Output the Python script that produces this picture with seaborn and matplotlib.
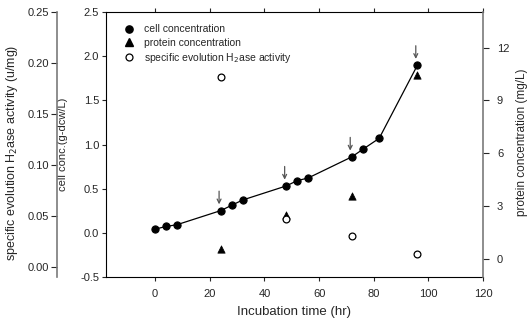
import matplotlib
matplotlib.use("Agg")
from matplotlib import pyplot as plt
from matplotlib.lines import Line2D
import seaborn as sns
import pandas as pd

# cell concentration (g-dcw/L)
cell_time = [0, 4, 8, 24, 28, 32, 48, 52, 56, 72, 76, 82, 96]
cell_conc = [0.04, 0.07, 0.09, 0.25, 0.31, 0.37, 0.53, 0.59, 0.62, 0.86, 0.945, 1.07, 1.90]

# protein concentration (mg/L)
prot_time = [24, 48, 72, 96]
prot_conc = [0.57, 2.5, 3.57, 10.47]

# specific evolution H2ase activity (u/mg)
act_time = [24, 48, 72, 96]
act_val = [0.186, 0.047, 0.030, 0.0125]

# times marked with arrows
arrow_time = [24, 48, 72, 96]

cell_df = pd.DataFrame({"time": cell_time, "conc": cell_conc})
prot_df = pd.DataFrame({"time": prot_time, "conc": prot_conc})
act_df = pd.DataFrame({"time": act_time, "act": act_val})

sns.set_style("ticks")
plt.rcParams["font.family"] = ["Liberation Sans", "DejaVu Sans"]

fig = plt.figure(figsize=(5.27, 3.24), dpi=100)
ax = fig.add_axes([0.2011, 0.146, 0.7154, 0.816])

sns.lineplot(x="time", y="conc", data=cell_df, ax=ax, color="black", linewidth=0.9,
             marker="o", markersize=5.2, markeredgecolor="black", markerfacecolor="black")
ax.set_xlim(-18, 120)
ax.set_ylim(-0.5, 2.5)
ax.set_xticks([0, 20, 40, 60, 80, 100, 120])
ax.set_yticks([-0.5, 0.0, 0.5, 1.0, 1.5, 2.0, 2.5])
ax.set_yticklabels(["-0.5", "0.0", "0.5", "1.0", "1.5", "2.0", "2.5"])
ax.tick_params(axis="x", top=True, direction="out", length=3, width=0.8, labelsize=8, pad=6)
ax.tick_params(axis="y", direction="out", length=3, width=0.8, labelsize=8, pad=2)
ax.set_xlabel("Incubation time (hr)", fontsize=9.5, labelpad=5)
ax.set_ylabel("cell conc.(g-dcw/L)", fontsize=8)
ax.yaxis.set_label_coords(-0.10, 0.5)
for s in ["left", "bottom", "top"]:
    ax.spines[s].set_color("black")
    ax.spines[s].set_linewidth(0.8)
ax.spines["right"].set_visible(False)

# arrows above selected cell points
for t in arrow_time:
    yv = cell_conc[cell_time.index(t)]
    ax.annotate("", xy=(t - 0.6, yv), xytext=(0, 14),
                xycoords="data", textcoords="offset points",
                arrowprops=dict(arrowstyle="->", color="#555555", lw=0.9,
                                shrinkA=0, shrinkB=4.5, mutation_scale=7))

# protein axis (right)
ax2 = ax.twinx()
sns.scatterplot(x="time", y="conc", data=prot_df, ax=ax2, marker="^", s=28,
                color="black", edgecolor="black", linewidth=0.5)
ax2.set_ylim(-1, 14)
ax2.set_yticks([0, 3, 6, 9, 12])
ax2.tick_params(axis="y", direction="out", length=4, width=0.8, labelsize=8, pad=6)
ax2.set_ylabel("protein concentration (mg/L)", fontsize=8.5)
ax2.yaxis.set_label_coords(1.0875, 0.51)
for s in ["left", "top", "bottom"]:
    ax2.spines[s].set_visible(False)
ax2.spines["right"].set_color("#7a7a7a")
ax2.spines["right"].set_linewidth(1.2)

# activity axis (outer left)
ax3 = ax.twinx()
sns.scatterplot(x="time", y="act", data=act_df, ax=ax3, marker="o", s=24,
                facecolor="white", edgecolor="black", linewidth=0.9)
ax3.set_ylim(-0.01, 0.25)
ax3.set_yticks([0.0, 0.05, 0.10, 0.15, 0.20, 0.25])
ax3.set_yticklabels(["0.00", "0.05", "0.10", "0.15", "0.20", "0.25"])
ax3.yaxis.set_ticks_position("left")
ax3.yaxis.set_label_position("left")
ax3.spines["left"].set_position(("axes", -0.13))
ax3.spines["left"].set_visible(True)
ax3.spines["left"].set_color("#7a7a7a")
ax3.spines["left"].set_linewidth(1.2)
for s in ["right", "top", "bottom"]:
    ax3.spines[s].set_visible(False)
ax3.tick_params(axis="y", direction="out", length=4, width=0.8, labelsize=8, pad=2)
ax3.set_ylabel("specific evolution H$_2$ase activity (u/mg)", fontsize=9)
ax3.yaxis.set_label_coords(-0.228, 0.468)

handles = [
    Line2D([], [], linestyle="none", marker="o", markersize=5.2, color="black"),
    Line2D([], [], linestyle="none", marker="^", markersize=5.2, color="black"),
    Line2D([], [], linestyle="none", marker="o", markersize=5, markerfacecolor="white",
           markeredgecolor="black", markeredgewidth=0.9),
]
labels = ["cell concentration", "protein concentration",
          "specific evolution H$_2$ase activity"]
ax3.legend(handles, labels, loc="upper left", bbox_to_anchor=(0.035, 0.97), frameon=False,
           fontsize=7.5, handletextpad=1.0, labelspacing=0.3, borderaxespad=0,
           handlelength=1.0)

fig.savefig("out.png", dpi=100)
